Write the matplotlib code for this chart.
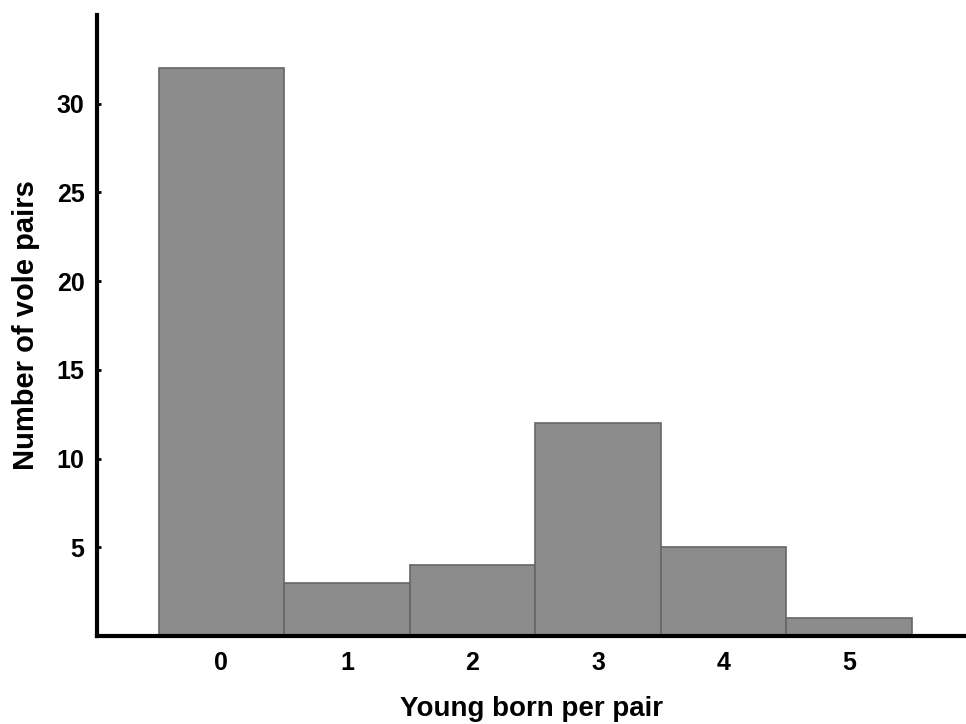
import matplotlib.pyplot as plt

young_born = [0, 1, 2, 3, 4, 5]
vole_pairs = [32, 3, 4, 12, 5, 1]
y_ticks = [5, 10, 15, 20, 25, 30]

plt.rcParams["font.family"] = ["Liberation Sans", "DejaVu Sans"]
plt.rcParams["font.weight"] = "bold"

fig = plt.figure(figsize=(9.66, 7.24), dpi=100)
ax = fig.add_axes([97 / 966, 1 - 636 / 724, (966 - 97) / 966, (636 - 15) / 724])

ax.bar(young_born, vole_pairs, width=1.0, color="#8c8c8c", edgecolor="#666666", linewidth=1.2, zorder=2)

ax.set_xlim(-0.99, 5.93)
ax.set_ylim(0, 35)
ax.set_xticks(young_born)
ax.set_yticks(y_ticks)

for side in ["top", "right"]:
    ax.spines[side].set_visible(False)
for side in ["left", "bottom"]:
    ax.spines[side].set_linewidth(3)
    ax.spines[side].set_zorder(3)

ax.tick_params(axis="both", direction="in", length=3, width=2, labelsize=18)
ax.tick_params(axis="y", pad=9)
ax.tick_params(axis="x", pad=11)

ax.set_xlabel("Young born per pair", fontsize=20, fontweight="bold", labelpad=15)
ax.set_ylabel("Number of vole pairs", fontsize=21, fontweight="bold", labelpad=12)

plt.savefig("out.png", dpi=100)
